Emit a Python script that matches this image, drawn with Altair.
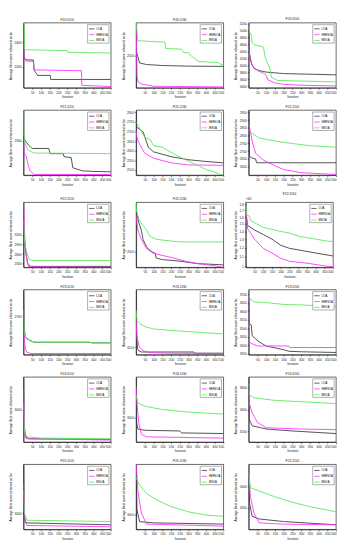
import altair as alt
import pandas as pd

ALGOS = ["COA", "HBRSOA", "MSOA"]
COLORS = ["#3c3c3c", "#ff33ff", "#5be85b"]
X_TICKS = [50, 100, 150, 200, 250, 300, 350, 400, 450, 500]

# ---- each panel: iterations and values per algorithm ----
F20_D10 = {
    "COA":    ([0, 3, 20, 57, 60, 75, 80, 153, 155, 500],
               [2560, 2270, 2257, 2257, 2174, 2144, 2131, 2131, 2098, 2098]),
    "HBRSOA": ([0, 3, 10, 57, 60, 332, 334, 500],
               [2560, 2270, 2250, 2244, 2176, 2169, 2050, 2040]),
    "MSOA":   ([0, 4, 5, 250, 252, 500],
               [2560, 2560, 2340, 2333, 2320, 2313]),
}
F20_D30 = {
    "COA":    ([0, 10, 20, 60, 150, 300, 500], [2537, 2488, 2438, 2426, 2418, 2413, 2411]),
    "HBRSOA": ([0, 5, 10, 30, 100, 500], [2760, 2339, 2290, 2270, 2252, 2247]),
    "MSOA":   ([0, 10, 165, 170, 260, 270, 300, 320, 340, 360, 420, 470, 480, 500],
               [2760, 2616, 2605, 2554, 2549, 2523, 2520, 2488, 2468, 2450, 2445, 2442, 2431, 2421]),
}
F20_D50 = {
    "COA":    ([0, 5, 15, 30, 60, 100, 200, 500], [4960, 4338, 4071, 3911, 3849, 3804, 3760, 3724]),
    "HBRSOA": ([0, 5, 20, 50, 90, 100, 110, 150, 200, 300, 500],
               [4782, 4293, 3982, 3849, 3760, 3716, 3582, 3493, 3449, 3422, 3404]),
    "MSOA":   ([0, 5, 15, 20, 40, 79, 85, 96, 123, 130, 167, 500],
               [5230, 4960, 4871, 4649, 4578, 4540, 4498, 4200, 3880, 3650, 3560, 3520]),
}
F21_D10 = {
    "COA":    ([0, 10, 30, 50, 144, 153, 227, 232, 273, 282, 338, 400, 500],
               [2315, 2300, 2285, 2275, 2275, 2258, 2258, 2248, 2245, 2212, 2202, 2200, 2199]),
    "HBRSOA": ([0, 5, 15, 25, 35, 50, 60, 500], [2302, 2258, 2250, 2225, 2205, 2195, 2190, 2190]),
    "MSOA":   ([0, 2, 10, 25, 60, 500], [2400, 2320, 2290, 2270, 2260, 2258]),
}
F21_D30 = {
    "COA":    ([0, 3, 20, 40, 70, 100, 200, 300, 400, 500],
               [2811, 2723, 2711, 2698, 2618, 2594, 2569, 2553, 2544, 2537]),
    "HBRSOA": ([0, 5, 20, 50, 100, 200, 300, 500], [2706, 2666, 2634, 2586, 2561, 2537, 2526, 2524]),
    "MSOA":   ([0, 10, 30, 50, 80, 100, 150, 180, 230, 300, 360, 400, 450, 480, 500],
               [2747, 2734, 2698, 2669, 2658, 2626, 2618, 2602, 2577, 2545, 2521, 2502, 2489, 2476, 2473]),
}
F21_D50 = {
    "COA":    ([0, 5, 20, 40, 45, 500], [2964, 2664, 2654, 2648, 2624, 2624]),
    "HBRSOA": ([0, 10, 20, 40, 80, 150, 200, 300, 500], [2880, 2824, 2764, 2684, 2644, 2604, 2580, 2560, 2548]),
    "MSOA":   ([0, 20, 60, 150, 250, 350, 500], [2834, 2814, 2784, 2764, 2748, 2734, 2724]),
}
F22_D10 = {
    "COA":    ([0, 5, 15, 25, 40, 500], [3587, 3055, 2571, 2281, 2213, 2213]),
    "HBRSOA": ([0, 5, 10, 20, 30, 500], [4216, 3345, 2861, 2377, 2203, 2184]),
    "MSOA":   ([0, 5, 15, 20, 33, 50, 500], [3636, 3055, 2716, 2619, 2426, 2397, 2397]),
}
F22_D30 = {
    "COA":    ([0, 5, 15, 30, 40, 60, 90, 110, 115, 150, 250, 350, 500],
               [2760, 2740, 2690, 2640, 2580, 2530, 2500, 2490, 2460, 2450, 2440, 2424, 2416]),
    "HBRSOA": ([0, 10, 30, 60, 100, 200, 280, 350, 450, 500],
               [2740, 2640, 2580, 2520, 2490, 2464, 2440, 2424, 2410, 2400]),
    "MSOA":   ([0, 3, 20, 40, 60, 80, 120, 200, 250, 500],
               [2820, 2760, 2700, 2670, 2640, 2600, 2580, 2570, 2564, 2564]),
}
F22_D50 = {
    "COA":    ([0, 10, 50, 100, 150, 200, 250, 300, 400, 500],
               [16840, 14780, 14150, 13560, 12980, 12250, 11900, 11730, 11390, 11070]),
    "HBRSOA": ([0, 5, 10, 50, 100, 150, 200, 250, 350, 450, 500],
               [17340, 15890, 14360, 12980, 11900, 11390, 10840, 10530, 10350, 10090, 10000]),
    "MSOA":   ([0, 5, 20, 30, 60, 100, 150, 200, 250, 300, 400, 450, 500],
               [18370, 16360, 16130, 15440, 15000, 14490, 14240, 13950, 13750, 13360, 12980, 12790, 12680]),
}
F23_D10 = {
    "COA":    ([0, 3, 10, 30, 60, 380, 390, 500], [2742, 2685, 2665, 2660, 2656, 2656, 2655, 2655]),
    "HBRSOA": ([0, 5, 10, 20, 40, 500], [2685, 2660, 2645, 2639, 2637, 2637]),
    "MSOA":   ([0, 5, 15, 40, 70, 380, 390, 500], [2710, 2672, 2662, 2658, 2656, 2656, 2655, 2655]),
}
F23_D30 = {
    "COA":    ([0, 3, 8, 15, 30, 330, 335, 500], [3470, 3200, 3090, 3076, 3068, 3068, 3060, 3060]),
    "HBRSOA": ([0, 5, 10, 20, 40, 80, 200, 500], [3280, 3160, 3140, 3100, 3076, 3064, 3060, 3058]),
    "MSOA":   ([0, 5, 20, 50, 100, 200, 300, 400, 500], [3350, 3280, 3260, 3240, 3224, 3214, 3206, 3198, 3190]),
}
F23_D50 = {
    "COA":    ([0, 3, 15, 20, 40, 60, 100, 200, 230, 300, 500],
               [3655, 3528, 3519, 3456, 3438, 3420, 3396, 3374, 3365, 3362, 3358]),
    "HBRSOA": ([0, 5, 15, 50, 230, 235, 500], [3691, 3420, 3411, 3396, 3396, 3387, 3387]),
    "MSOA":   ([0, 5, 15, 30, 100, 200, 300, 500], [3727, 3682, 3664, 3655, 3651, 3640, 3637, 3628]),
}
F24_D10 = {
    "COA":    ([0, 3, 10, 30, 500], [3300, 2880, 2748, 2730, 2724]),
    "HBRSOA": ([0, 5, 15, 500], [3180, 2820, 2730, 2718]),
    "MSOA":   ([0, 5, 20, 100, 500], [3060, 2790, 2748, 2736, 2730]),
}
F24_D30 = {
    "COA":    ([0, 3, 10, 50, 250, 260, 500], [3250, 2970, 2930, 2922, 2918, 2906, 2902]),
    "HBRSOA": ([0, 5, 15, 30, 60, 500], [3190, 3090, 2970, 2898, 2882, 2874]),
    "MSOA":   ([0, 10, 50, 150, 300, 500], [3138, 3090, 3070, 3050, 3034, 3022]),
}
F24_D50 = {
    "COA":    ([0, 3, 20, 100, 250, 500], [3700, 3310, 3250, 3220, 3202, 3178]),
    "HBRSOA": ([0, 5, 20, 50, 100, 300, 500], [3550, 3448, 3370, 3280, 3232, 3220, 3214]),
    "MSOA":   ([0, 5, 30, 150, 300, 500], [3640, 3532, 3508, 3484, 3472, 3454]),
}
F25_D10 = {
    "COA":    ([0, 3, 10, 500], [3300, 3000, 2940, 2928]),
    "HBRSOA": ([0, 5, 20, 500], [3180, 2980, 2924, 2916]),
    "MSOA":   ([0, 5, 20, 500], [3140, 3000, 2956, 2948]),
}
F25_D30 = {
    "COA":    ([0, 5, 20, 100, 500], [3348, 3036, 2942, 2932, 2922]),
    "HBRSOA": ([0, 10, 30, 60, 500], [3400, 3192, 3010, 2922, 2906]),
    "MSOA":   ([0, 20, 60, 120, 200, 300, 400, 500], [3296, 3234, 3166, 3114, 3062, 3020, 2994, 2984]),
}
F25_D50 = {
    "COA":    ([0, 5, 20, 60, 200, 500], [3480, 3240, 3120, 3096, 3072, 3042]),
    "HBRSOA": ([0, 10, 30, 60, 200, 500], [3540, 3300, 3150, 3060, 3048, 3042]),
    "MSOA":   ([0, 10, 50, 150, 250, 350, 500], [3516, 3384, 3360, 3300, 3250, 3210, 3162]),
}

# title, data, y-domain, y tick values, log?
PANELS = [
    ("F20-D10", F20_D10, [2030, 2560], [2200, 2400], False),
    ("F20-D30", F20_D30, [2240, 2760], [2500], False),
    ("F20-D50", F20_D50, [3350, 5230], [3400, 3600, 3800, 4000, 4200, 4400, 4600, 4800, 5000, 5200], False),
    ("F21-D10", F21_D10, [2188, 2400], [2300], False),
    ("F21-D30", F21_D30, [2473, 2811], [2500, 2550, 2600, 2650, 2700, 2750, 2800], False),
    ("F21-D50", F21_D50, [2544, 2964], [2600, 2650, 2700, 2750, 2800, 2850, 2900, 2950], False),
    ("F22-D10", F22_D10, [2184, 4216], [2300, 2600, 2900, 3200], False),
    ("F22-D30", F22_D30, [2400, 2820], [2500], False),
    ("F22-D50", F22_D50, [9950, 18370], [10000, 11000, 12000, 13000, 14000, 15000, 16000, 17000, 18000], True),
    ("F23-D10", F23_D10, [2635, 2745], [2700], False),
    ("F23-D30", F23_D30, [3050, 3490], [3100], False),
    ("F23-D50", F23_D50, [3345, 3727], [3350, 3400, 3450, 3500, 3550, 3600, 3650, 3700], False),
    ("F24-D10", F24_D10, [2700, 3300], [3000], False),
    ("F24-D30", F24_D30, [2850, 3250], [3000], False),
    ("F24-D50", F24_D50, [3100, 3700], [3200, 3400, 3600], False),
    ("F25-D10", F25_D10, [2900, 3300], [3000], False),
    ("F25-D30", F25_D30, [2880, 3400], [3000], False),
    ("F25-D50", F25_D50, [3000, 3600], [3200, 3400], False),
]

PW, PH = 90, 67


def panel(title, data, ydom, yticks, log):
    rows = []
    for algo in ALGOS:
        its, vals = data[algo]
        for it, v in zip(its, vals):
            rows.append({"Iteration": it, "score": v, "algo": algo})
    df = pd.DataFrame(rows)
    yscale = alt.Scale(domain=ydom, nice=False, zero=False, type="log" if log else "linear")
    yaxis = alt.Axis(values=yticks, title="Average Best score obtained so far",
                     format="d", labelOverlap=False)
    if log:
        yaxis = alt.Axis(values=yticks, title="Average Best score obtained so far",
                         labelExpr="format(datum.value/10000, '.1~f')", labelOverlap=False)
    lines = alt.Chart(df).mark_line(strokeWidth=0.9, clip=True).encode(
        x=alt.X("Iteration:Q", scale=alt.Scale(domain=[0, 500], nice=False),
                axis=alt.Axis(values=X_TICKS, title="Iteration", labelOverlap=False)),
        y=alt.Y("score:Q", scale=yscale, axis=yaxis),
        color=alt.Color("algo:N", scale=alt.Scale(domain=ALGOS, range=COLORS),
                        legend=alt.Legend(title=None, orient="top-right")),
        detail="algo:N",
    )
    ch = lines
    if log:
        expo = alt.Chart(pd.DataFrame({"t": ["\u00d710\u2074"]})).mark_text(
            fontSize=3.2, align="left", baseline="bottom", dx=0, dy=-1
        ).encode(text="t:N", x=alt.value(0), y=alt.value(0))
        ch = alt.layer(lines, expo)
    return ch.properties(width=PW, height=PH, title=title)


rows = []
for r in range(6):
    row = alt.hconcat(*[panel(*PANELS[r * 3 + c]) for c in range(3)], spacing=9)
    row = row.resolve_scale(color="independent").resolve_legend(color="independent")
    rows.append(row)

chart = alt.vconcat(*rows, spacing=6).resolve_scale(color="independent").resolve_legend(
    color="independent"
).properties(padding=0).configure(
    font="Liberation Sans"
).configure_view(
    stroke="black", strokeWidth=0.6
).configure_axis(
    labelFontSize=3.3, titleFontSize=3.2, labelPadding=1, titlePadding=1.5,
    tickSize=1.5, tickWidth=0.5, domainWidth=0.6, domainColor="black", tickColor="black",
    labelColor="#222", titleColor="#222", grid=False, titleFontWeight="normal"
).configure_title(
    fontSize=3.6, fontWeight="normal", offset=1.5, color="#222"
).configure_legend(
    fillColor="white", strokeColor="#333", strokeWidth=0.4, padding=0.8, offset=2,
    labelFontSize=2.8, labelColor="black", symbolType="stroke", symbolSize=30,
    symbolStrokeWidth=0.8, rowPadding=0, labelOffset=1.2, symbolOffset=0,
    labelLimit=60, titlePadding=0
)

chart.save("out.html", embed_options={"renderer": "svg", "actions": False})
